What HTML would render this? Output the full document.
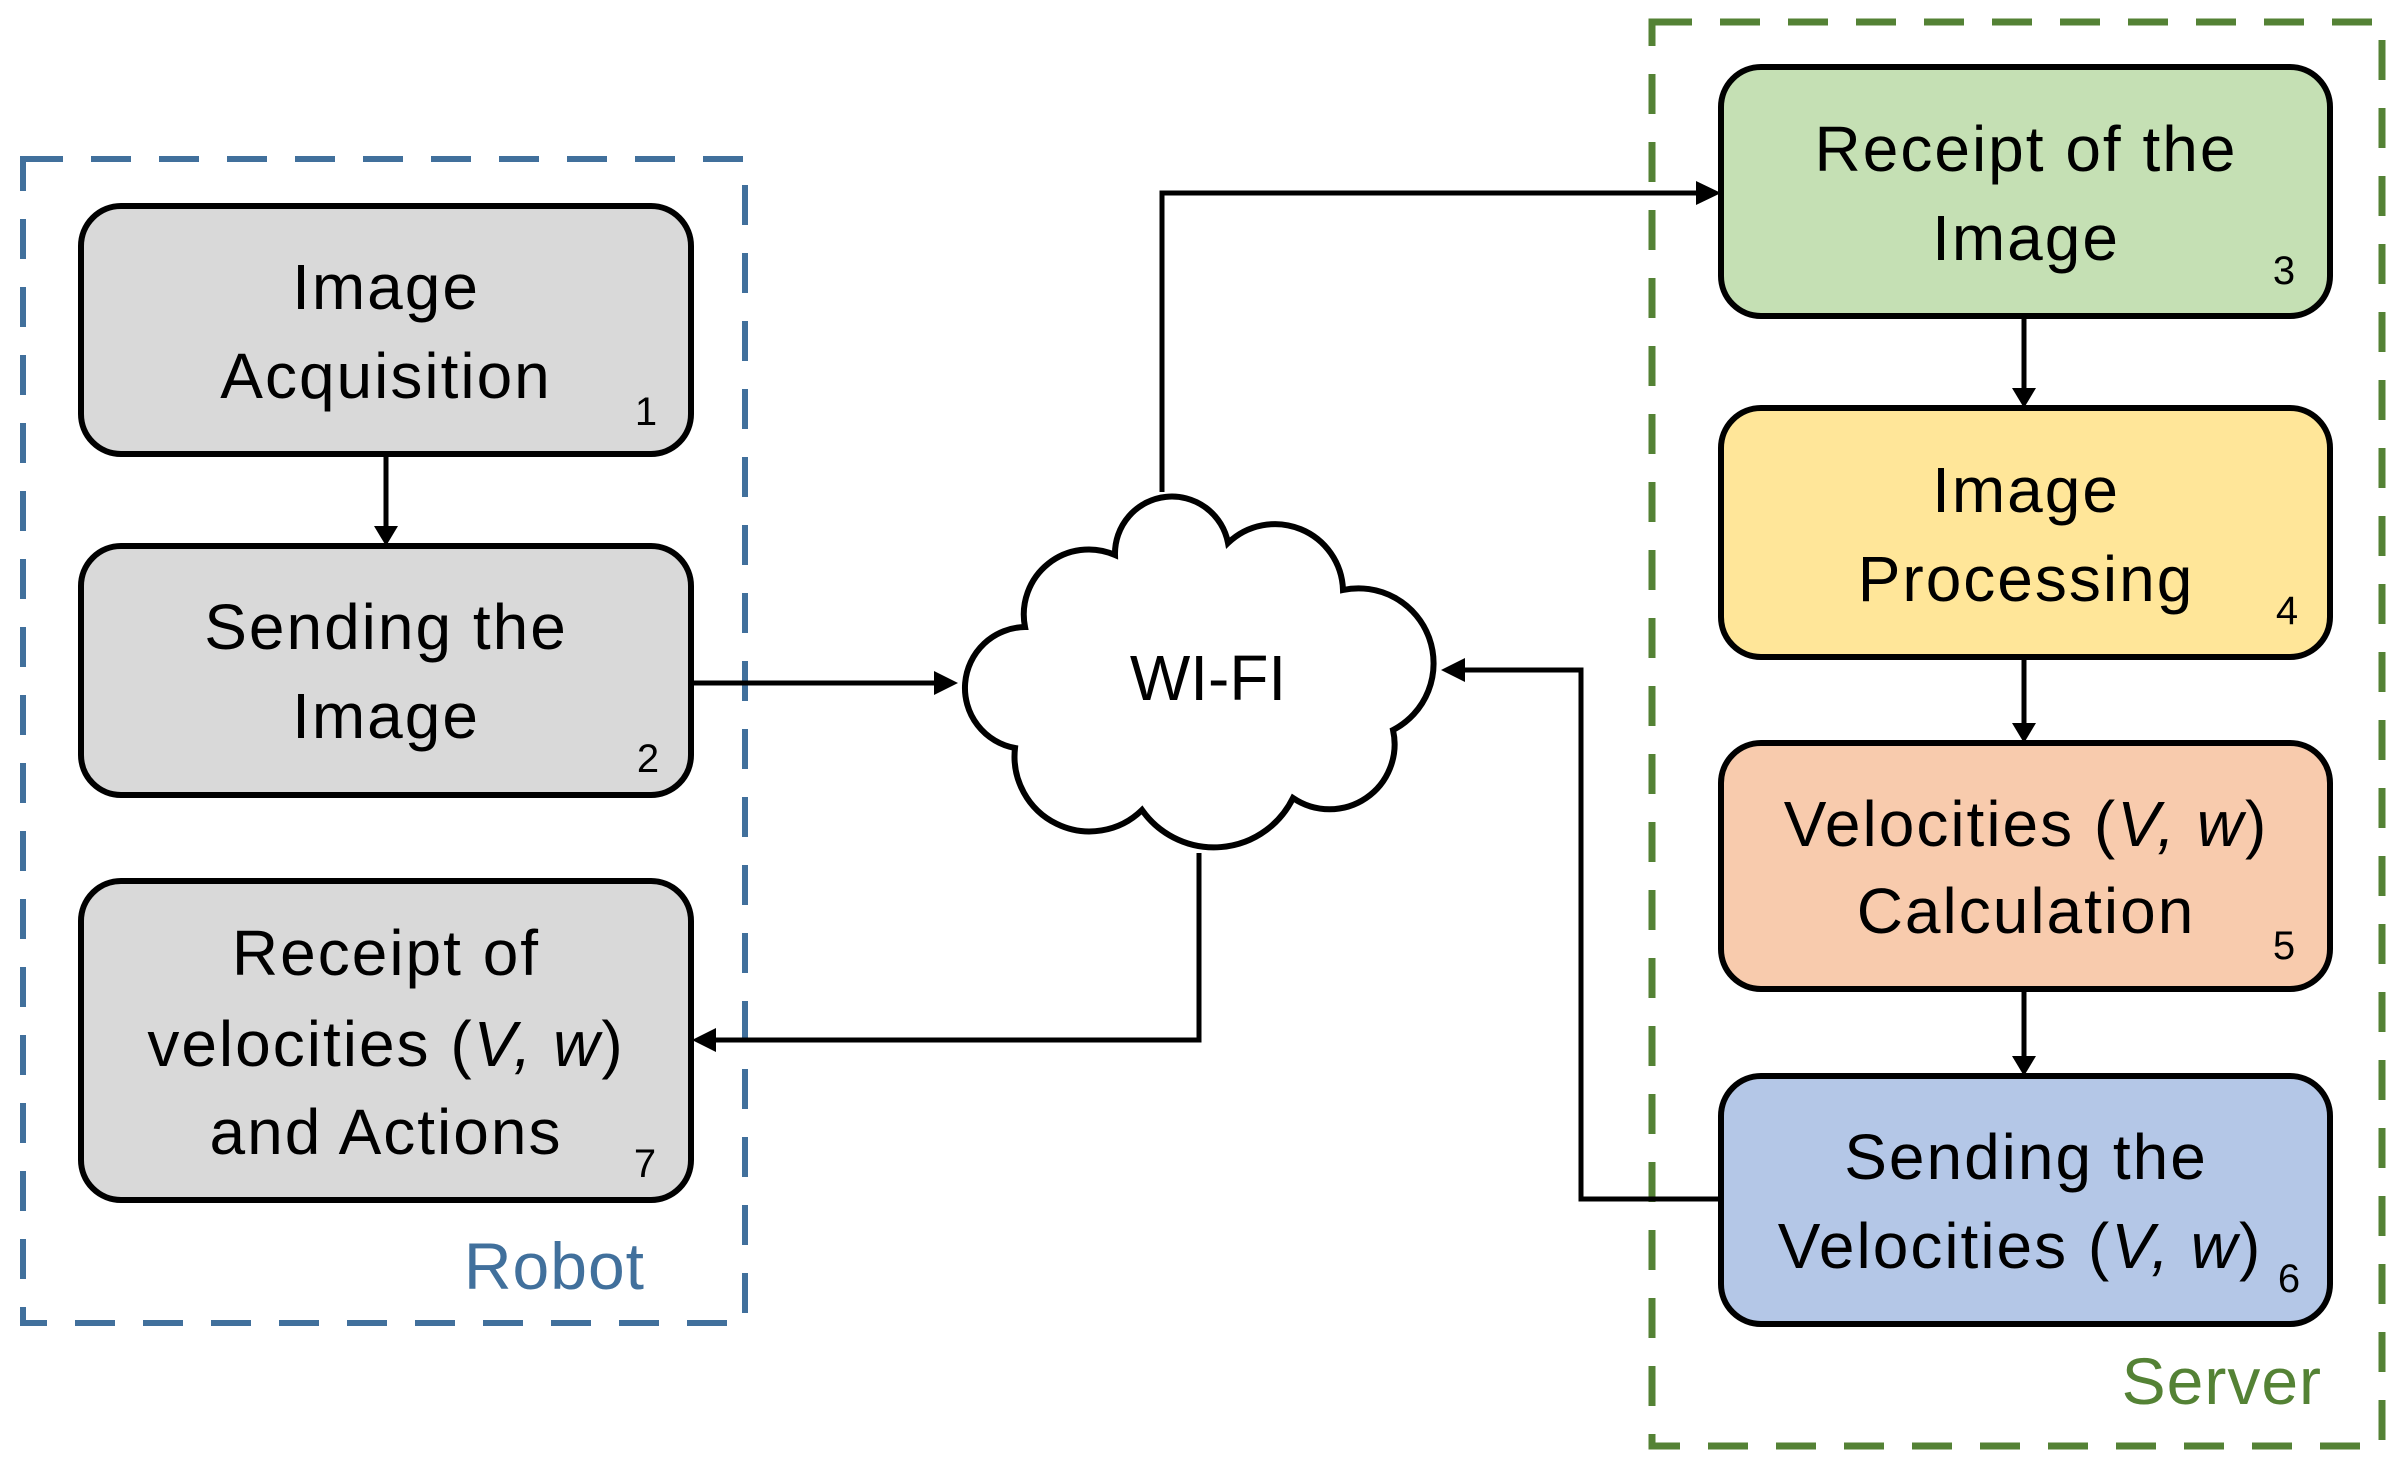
<!DOCTYPE html>
<html><head><meta charset="utf-8"><style>
html,body{margin:0;padding:0;background:#fff;}
svg{display:block;}
text{font-family:"Liberation Sans",sans-serif;}
</style></head><body>
<svg width="2397" height="1467" viewBox="0 0 2397 1467" xmlns="http://www.w3.org/2000/svg">
<!-- group boxes -->
<rect x="23" y="159" width="722" height="1164" fill="none" stroke="#41709c" stroke-width="6" stroke-dasharray="40 28"/>
<rect x="1652" y="22" width="730" height="1424" fill="none" stroke="#548235" stroke-width="7" stroke-dasharray="40 28"/>
<text x="645" y="1289" font-size="66" fill="#41709c" text-anchor="end" letter-spacing="1">Robot</text>
<text x="2322" y="1404" font-size="66" fill="#548235" text-anchor="end" letter-spacing="1">Server</text>

<!-- connectors -->
<g stroke="#000" stroke-width="5" fill="none">
<line x1="386" y1="454" x2="386" y2="528"/>
<line x1="2024" y1="316" x2="2024" y2="390"/>
<line x1="2024" y1="657" x2="2024" y2="725"/>
<line x1="2024" y1="989" x2="2024" y2="1058"/>
<line x1="691" y1="683" x2="940" y2="683"/>
<polyline points="1162,492 1162,193 1700,193"/>
<polyline points="1719,1199 1581,1199 1581,670 1460,670"/>
<polyline points="1199,853 1199,1040 712,1040"/>
</g>
<g fill="#000">
<polygon points="374,526 398,526 386,546"/>
<polygon points="2012,388 2036,388 2024,408"/>
<polygon points="2012,723 2036,723 2024,743"/>
<polygon points="2012,1056 2036,1056 2024,1076"/>
<polygon points="934,671 934,695 958,683"/>
<polygon points="1696,181 1696,205 1721,193"/>
<polygon points="1465,658 1465,682 1441,670"/>
<polygon points="716,1028 716,1052 692,1040"/>
</g>

<!-- boxes -->
<g stroke="#000" stroke-width="6">
<rect x="81" y="206" width="610" height="248" rx="40" fill="#d9d9d9"/>
<rect x="81" y="546" width="610" height="249" rx="40" fill="#d9d9d9"/>
<rect x="81" y="881" width="610" height="319" rx="40" fill="#d9d9d9"/>
<rect x="1721" y="67" width="609" height="249" rx="40" fill="#c5e0b4"/>
<rect x="1721" y="408" width="609" height="249" rx="40" fill="#ffe699"/>
<rect x="1721" y="743" width="609" height="246" rx="40" fill="#f8cbad"/>
<rect x="1721" y="1076" width="609" height="248" rx="40" fill="#b4c7e7"/>
</g>

<!-- cloud -->
<path d="M1025,627 A65,65 0 0 1 1115,555 A57,57 0 0 1 1228,543 A68,68 0 0 1 1343,590 A75,75 0 0 1 1393,730 A65,65 0 0 1 1293,798 A88,88 0 0 1 1142,810 A75,75 0 0 1 1015,748 A61,61 0 0 1 1025,627 Z" fill="#fff" stroke="#000" stroke-width="6"/>
<text x="1208" y="700" font-size="64" text-anchor="middle">WI-FI</text>

<g font-size="64" text-anchor="middle" fill="#000" letter-spacing="2">
<text x="386" y="309">Image</text>
<text x="386" y="398">Acquisition</text>
<text x="386" y="649">Sending the</text>
<text x="386" y="738">Image</text>
<text x="386" y="975">Receipt of</text>
<text x="386" y="1066">velocities (<tspan font-style="italic">V, w</tspan>)</text>
<text x="386" y="1154">and Actions</text>
<text x="2026" y="171">Receipt of the</text>
<text x="2026" y="260">Image</text>
<text x="2026" y="512">Image</text>
<text x="2026" y="601">Processing</text>
<text x="2026" y="846">Velocities (<tspan font-style="italic">V, w</tspan>)</text>
<text x="2026" y="933">Calculation</text>
<text x="2026" y="1179">Sending the</text>
<text x="2020" y="1268">Velocities (<tspan font-style="italic">V, w</tspan>)</text>
</g>
<g font-size="40" text-anchor="middle" fill="#000">
<text x="646" y="425">1</text>
<text x="648" y="772">2</text>
<text x="645" y="1177">7</text>
<text x="2284" y="284">3</text>
<text x="2287" y="624">4</text>
<text x="2284" y="959">5</text>
<text x="2289" y="1292">6</text>
</g>
</svg>
</body></html>
